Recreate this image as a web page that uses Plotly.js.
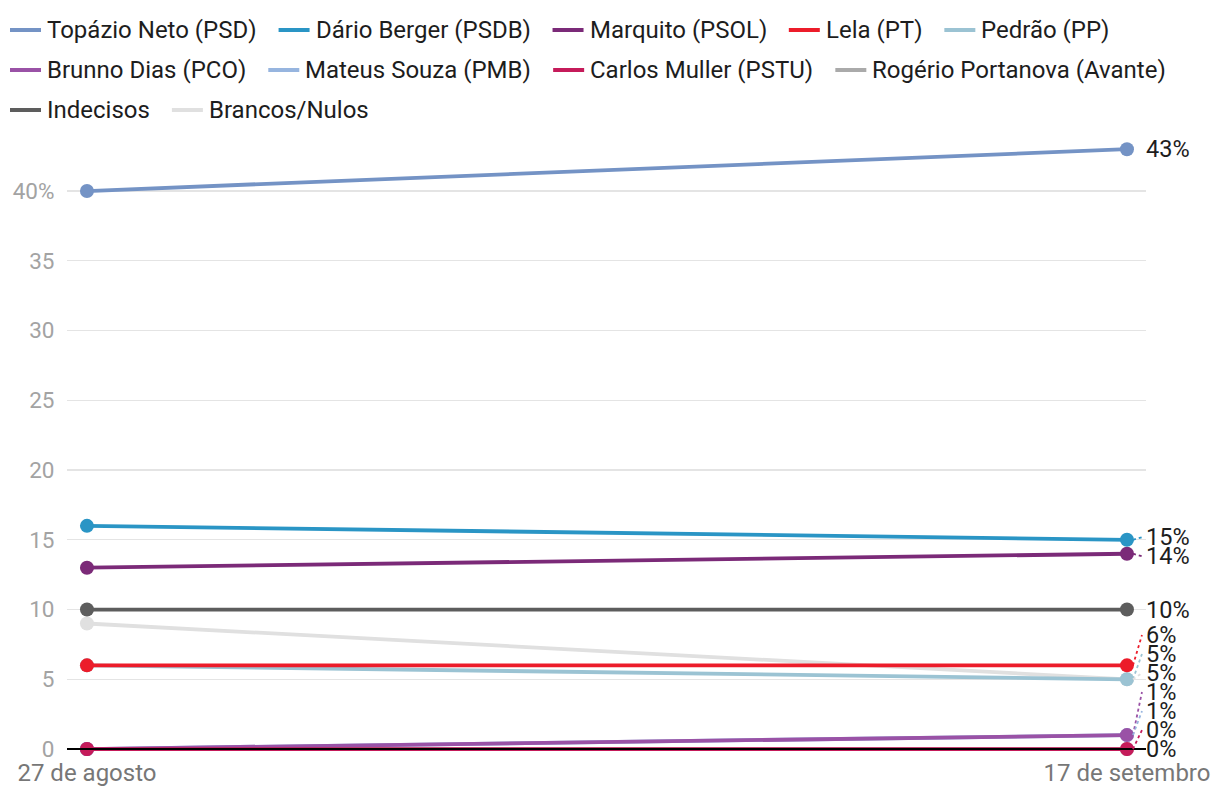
<!DOCTYPE html>
<html><head><meta charset="utf-8">
<script src="https://cdn.plot.ly/plotly-3.0.1.min.js"></script>
<style>html,body{margin:0;padding:0;background:#fff}#chart{width:1220px;height:800px}</style>
</head><body><div id="chart"></div>
<script>
// ---- data ----
const dates = ['27 de agosto', '17 de setembro'];
const names = ['Topázio Neto (PSD)', 'Dário Berger (PSDB)', 'Marquito (PSOL)', 'Lela (PT)', 'Pedrão (PP)',
  'Brunno Dias (PCO)', 'Mateus Souza (PMB)', 'Carlos Muller (PSTU)', 'Rogério Portanova (Avante)',
  'Indecisos', 'Brancos/Nulos'];
const topazio = [40, 43];
const dario = [16, 15];
const marquito = [13, 14];
const lela = [6, 6];
const pedrao = [6, 5];
const brunno = [0, 1];
const mateus = [0, 1];
const carlos = [0, 0];
const rogerio = [0, 0];
const indecisos = [10, 10];
const brancos = [9, 5];
const yTickVals = [0, 5, 10, 15, 20, 25, 30, 35, 40];
const yTickText = ['0', '5', '10', '15', '20', '25', '30', '35', '40%'];

// ---- styles ----
const values = [topazio, dario, marquito, lela, pedrao, brunno, mateus, carlos, rogerio, indecisos, brancos];
const colors = ['#7493c5', '#2a95c5', '#7b2a78', '#ec1c2a', '#9bc3d3', '#9a52a6', '#97b5df', '#c51b5a', '#aaaaaa', '#5d5d5d', '#e0e0e0'];
const drawOrder = [10, 8, 6, 4, 5, 7, 9, 3, 2, 1, 0];

const W = 1220, HGT = 800;
const M = {l: 67, r: 74, t: 140, b: 44};
const yMin = -0.5, yMax = 43.66;
const xMin = -0.0192, xMax = 1.0183;
const plotH = HGT - M.t - M.b;
const plotW = W - M.l - M.r;
const xs = dates.map((d, i) => i);
const last = xs.length - 1;

const yToPx = v => M.t + (yMax - v) / (yMax - yMin) * plotH;
const pxToY = p => yMax - (p - M.t) / plotH * (yMax - yMin);
const pxToPaperX = p => (p - M.l) / plotW;
const pxToPaperY = p => (HGT - M.b - p) / plotH;

// ---- label dodging (pixel space) ----
const GAP = 19;
const bottomPx = yToPx(0);
let items = values.map((v, i) => ({i, anchor: yToPx(v[last])}));
items.sort((a, b) => a.anchor - b.anchor || a.i - b.i);
let blocks = [];
items.forEach(it => {
  let blk = {members: [it]};
  const place = b => {
    let s = b.members.reduce((acc, m, k) => acc + (m.anchor - k * GAP), 0) / b.members.length;
    const n = b.members.length;
    if (s + (n - 1) * GAP > bottomPx) s = bottomPx - (n - 1) * GAP;
    b.s = s;
  };
  place(blk);
  while (blocks.length) {
    const prev = blocks[blocks.length - 1];
    if (prev.s + prev.members.length * GAP > blk.s) {
      blocks.pop();
      blk = {members: prev.members.concat(blk.members)};
      place(blk);
    } else break;
  }
  blocks.push(blk);
});
const labelPx = {};
blocks.forEach(b => b.members.forEach((m, k) => { labelPx[m.i] = b.s + k * GAP; }));

// ---- traces ----
const traces = [];
drawOrder.forEach(i => {
  traces.push({
    x: xs, y: values[i], name: names[i], type: 'scatter', mode: 'lines',
    line: {color: colors[i], width: 3.8}, showlegend: false, hoverinfo: 'skip'
  });
  traces.push({
    x: xs, y: values[i], name: names[i], type: 'scatter', mode: 'markers',
    marker: {color: colors[i], size: 14, line: {width: 0}}, showlegend: false,
    hoverinfo: 'skip'
  });
});

// ---- annotations & leader lines ----
const annotations = [];
const shapes = [{
  type: 'line', xref: 'paper', x0: 0, x1: 1, yref: 'y', y0: 0, y1: 0,
  line: {color: '#000', width: 2}, layer: 'above'
}];
values.forEach((v, i) => {
  const ly = pxToY(labelPx[i]);
  annotations.push({
    x: xs[last], y: ly, xref: 'x', yref: 'y', text: v[last] + '%', showarrow: false,
    xanchor: 'left', yanchor: 'middle', xshift: 17,
    font: {family: 'Roboto', size: 23.5, color: '#1d1d1d'}
  });
  if (Math.abs(labelPx[i] - yToPx(v[last])) > 1) {
    shapes.push({
      type: 'line', xsizemode: 'pixel', xanchor: xs[last], x0: 6, x1: 15,
      yref: 'y', y0: v[last], y1: ly,
      line: {color: colors[i], width: 1.8, dash: 'dot'}, layer: 'above'
    });
  }
});

// ---- legend (flowing rows, built from measured text widths) ----
const LEG_FONT = 24;
const ctx = document.createElement('canvas').getContext('2d');
ctx.font = LEG_FONT + 'px Roboto';
const legStartX = 10, legRight = 1212, legRow0 = 30, legRowStep = 40;
const symLen = 31, symGap = 7, itemGap = 21;
let lx = legStartX, row = 0;
names.forEach((nm, i) => {
  const tw = ctx.measureText(nm).width;
  if (lx > legStartX && lx + symLen + symGap + tw > legRight) { row++; lx = legStartX; }
  const py = legRow0 + row * legRowStep;
  shapes.push({
    type: 'line', xref: 'paper', yref: 'paper',
    x0: pxToPaperX(lx), x1: pxToPaperX(lx + symLen), y0: pxToPaperY(py), y1: pxToPaperY(py),
    line: {color: colors[i], width: 4}
  });
  annotations.push({
    xref: 'paper', yref: 'paper', x: pxToPaperX(lx + symLen + symGap - 3), y: pxToPaperY(py),
    xanchor: 'left', yanchor: 'middle', text: nm, showarrow: false,
    font: {family: 'Roboto', size: LEG_FONT, color: '#1d1d1d'}
  });
  lx += symLen + symGap + tw + itemGap;
});

const layout = {
  width: W, height: HGT,
  margin: M,
  paper_bgcolor: '#fff', plot_bgcolor: '#fff',
  font: {family: 'Roboto', size: 22, color: '#1d1d1d'},
  showlegend: false,
  xaxis: {
    range: [xMin, xMax], tickvals: xs, ticktext: dates, showgrid: false, zeroline: false,
    showline: false, ticks: '', ticklen: 0,
    tickfont: {family: 'Roboto', size: 24, color: '#777'}, fixedrange: true
  },
  yaxis: {
    range: [yMin, yMax], tickvals: yTickVals, ticktext: yTickText, showgrid: true,
    gridcolor: '#e4e4e4', gridwidth: 1.2, zeroline: false, showline: false,
    ticks: 'outside', ticklen: 7, tickcolor: 'rgba(0,0,0,0)',
    tickfont: {family: 'Roboto', size: 22.5, color: '#a3a3a3'}, fixedrange: true
  },
  annotations, shapes,
  hovermode: false
};

Plotly.newPlot('chart', traces, layout, {displayModeBar: false, staticPlot: true});
</script>
</body></html>
